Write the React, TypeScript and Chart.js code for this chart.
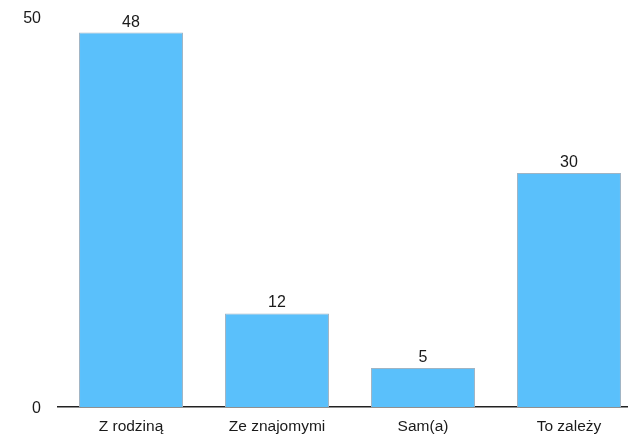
import React, { useEffect, useRef } from "react";
import { Chart, registerables } from "chart.js";

Chart.register(...registerables);

const categories = ["Z rodziną", "Ze znajomymi", "Sam(a)", "To zależy"];
const values = [48, 12, 5, 30];
const yTicks = [0, 50];

const FONT = "'Liberation Sans', Arial, Helvetica, sans-serif";

const valueLabels = {
  id: "valueLabels",
  afterDatasetsDraw(chart: any) {
    const ctx = chart.ctx;
    const meta = chart.getDatasetMeta(0);
    ctx.save();
    ctx.font = `16px ${FONT}`;
    ctx.fillStyle = "#1a1a1a";
    ctx.textAlign = "center";
    ctx.textBaseline = "alphabetic";
    meta.data.forEach((bar: any, i: number) => {
      ctx.fillText(String(values[i]), bar.x, bar.y - 6);
    });
    ctx.restore();
  },
};

export default function App() {
  const ref = useRef<HTMLCanvasElement | null>(null);
  useEffect(() => {
    if (!ref.current) return;
    const chart = new Chart(ref.current, {
      type: "bar",
      data: {
        labels: categories,
        datasets: [
          {
            data: values,
            backgroundColor: "#5ac0fb",
            borderColor: "#9fb4c4",
            borderWidth: 1,
            categoryPercentage: 1,
            barPercentage: 0.712,
          },
        ],
      },
      options: {
        animation: false,
        responsive: false,
        maintainAspectRatio: false,
        layout: { padding: { top: 4, right: 18, bottom: 0, left: 0 } },
        plugins: { legend: { display: false }, tooltip: { enabled: false } },
        scales: {
          x: {
            afterFit(scale: any) {
              scale.height = 28;
            },
            grid: { display: false },
            border: { display: true, color: "#222", width: 1.5 },
            ticks: { color: "#1a1a1a", font: { size: 15.5, family: FONT }, padding: 2 },
          },
          y: {
            min: 0,
            max: 50,
            afterFit(scale: any) {
              scale.width = 58;
            },
            afterBuildTicks(scale: any) {
              scale.ticks = yTicks.map((v) => ({ value: v }));
            },
            grid: { display: false },
            border: { display: false },
            ticks: {
              color: "#1a1a1a",
              font: { size: 16, family: FONT, lineHeight: 1 },
              padding: 9,
              labelOffset: 2,
            },
          },
        },
      },
      plugins: [valueLabels],
    });
    return () => chart.destroy();
  }, []);
  return (
    <div style={{ position: "absolute", left: 0, top: 0, width: 628, height: 435, overflow: "hidden", background: "#fff" }}>
      <canvas ref={ref} width={660} height={435} style={{ display: "block" }} />
    </div>
  );
}
